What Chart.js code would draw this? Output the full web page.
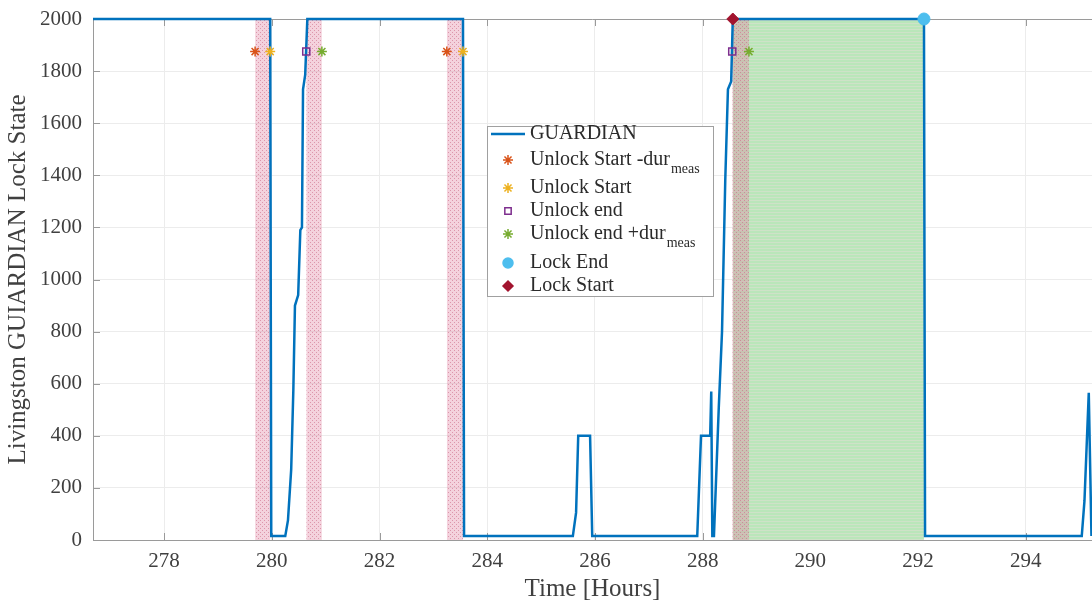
<!DOCTYPE html>
<html>
<head>
<meta charset="utf-8">
<script src="https://cdn.jsdelivr.net/npm/chart.js@4.4.1/dist/chart.umd.min.js"></script>
<style>
  html, body { margin: 0; padding: 0; background: #fff; }
  #wrap { width: 1092px; height: 604px; }
</style>
</head>
<body>
<div id="wrap"><canvas id="graficoLock" width="1092" height="604"></canvas></div>
<script>
// dados
const guardianTime = [276.68, 279.97, 279.99, 280.25, 280.30, 280.36, 280.40, 280.43, 280.49, 280.53, 280.56, 280.58, 280.62, 280.66,
    283.55, 283.57, 285.59, 285.65, 285.69, 285.91, 285.95, 287.90, 287.97, 288.14, 288.16, 288.18, 288.21, 288.30, 288.36,
    288.42, 288.47, 288.53, 288.56, 292.11, 292.13, 295.04, 295.09, 295.17, 295.22];
const guardianState = [2000, 2000, 15, 15, 75, 270, 575, 900, 940, 1190, 1200, 1730, 1785, 2000,
    2000, 15, 15, 105, 400, 400, 15, 15, 400, 400, 570, 15, 15, 510, 800,
    1380, 1730, 1760, 2000, 2000, 15, 15, 150, 565, 15];

const unlockStartDur = [279.69, 283.25];
const unlockStart = [279.97, 283.55];
const unlockEnd = [280.64, 288.55];
const unlockEndDur = [280.93, 288.86];
const lockStart = [288.56];
const lockEnd = [292.11];
const markerLevel = 1875;
const lockLevel = 2000;

const xTickValues = [278, 280, 282, 284, 286, 288, 290, 292, 294];
const yTickValues = [0, 200, 400, 600, 800, 1000, 1200, 1400, 1600, 1800, 2000];

const legendItems = [
    { label: 'GUARDIAN', sub: '', kind: 'line', color: '#0072BD' },
    { label: 'Unlock Start -dur', sub: 'meas', kind: 'star', color: '#D95319' },
    { label: 'Unlock Start', sub: '', kind: 'star', color: '#EDB120' },
    { label: 'Unlock end', sub: '', kind: 'rect', color: '#7E2F8E' },
    { label: 'Unlock end +dur', sub: 'meas', kind: 'star', color: '#77AC30' },
    { label: 'Lock End', sub: '', kind: 'circle', color: '#4DBEEE' },
    { label: 'Lock Start', sub: '', kind: 'rectRot', color: '#A2142F' }
];

const FONTE = '"Liberation Serif", "Times New Roman", serif';

// =================================================================================
// PADROES (hachura das faixas)
// =================================================================================

function padraoRosa() {
    const c = document.createElement('canvas');
    c.width = 4; c.height = 4;
    const g = c.getContext('2d');
    g.fillStyle = 'rgba(225,130,160,0.36)';
    g.fillRect(0, 0, 4, 4);
    g.fillStyle = 'rgba(200,100,130,0.55)';
    g.fillRect(0, 0, 1, 1);
    g.fillRect(2, 2, 1, 1);
    return g.createPattern(c, 'repeat');
}

function padraoVerde() {
    const c = document.createElement('canvas');
    c.width = 4; c.height = 3;
    const g = c.getContext('2d');
    g.fillStyle = 'rgb(186,230,186)';
    g.fillRect(0, 0, 4, 3);
    g.fillStyle = 'rgb(206,226,200)';
    g.fillRect(0, 2, 4, 1);
    return g.createPattern(c, 'repeat');
}

const rosa = padraoRosa();
const verde = padraoVerde();

function faixa(a, b, bg, ordem) {
    return {
        type: 'line',
        data: [{ x: a, y: lockLevel }, { x: b, y: lockLevel }],
        fill: 'origin',
        backgroundColor: bg,
        borderWidth: 0,
        pointRadius: 0,
        order: ordem
    };
}

function marcadores(xs, y, estilo, cor, raio, cheio) {
    return {
        type: 'scatter',
        data: xs.map(v => ({ x: v, y: y })),
        pointStyle: estilo,
        pointRadius: raio,
        borderColor: cor,
        backgroundColor: cheio ? cor : 'rgba(0,0,0,0)',
        pointBorderWidth: cheio ? 1 : 1.5,
        borderWidth: 1.5,
        clip: false,
        order: 0
    };
}

const datasets = [];
lockStart.forEach((s, i) => datasets.push(faixa(s, lockEnd[i], verde, 30)));
unlockStartDur.forEach((s, i) => datasets.push(faixa(s, unlockStart[i], rosa, 20)));
unlockEnd.forEach((s, i) => datasets.push(faixa(s, unlockEndDur[i], rosa, 20)));

datasets.push({
    type: 'line',
    data: guardianTime.map((t, i) => ({ x: t, y: guardianState[i] })),
    borderColor: '#0072BD',
    borderWidth: 2.5,
    pointRadius: 0,
    tension: 0,
    fill: false,
    clip: false,
    order: 5
});

datasets.push(marcadores(unlockStartDur, markerLevel, 'star', '#D95319', 5, false));
datasets.push(marcadores(unlockStart, markerLevel, 'star', '#EDB120', 5, false));
datasets.push(marcadores(unlockEnd, markerLevel, 'rect', '#7E2F8E', 5, false));
datasets.push(marcadores(unlockEndDur, markerLevel, 'star', '#77AC30', 5, false));
datasets.push(marcadores(lockEnd, lockLevel, 'circle', '#4DBEEE', 6, true));
datasets.push(marcadores(lockStart, lockLevel, 'rectRot', '#A2142F', 6, true));

// =================================================================================
// PLUGIN: borda superior, ticks internos e legenda estilo MATLAB
// =================================================================================

const estiloMatlab = {
    id: 'estiloMatlab',
    beforeDatasetsDraw(chart) {
        const ctx = chart.ctx;
        const a = chart.chartArea;
        ctx.save();
        ctx.strokeStyle = '#9a9a9a';
        ctx.lineWidth = 1;
        ctx.beginPath();
        ctx.moveTo(a.left, a.top + 0.5);
        ctx.lineTo(a.right, a.top + 0.5);
        ctx.stroke();
        ctx.beginPath();
        xTickValues.forEach(v => {
            const px = Math.round(chart.scales.x.getPixelForValue(v)) + 0.5;
            ctx.moveTo(px, a.bottom); ctx.lineTo(px, a.bottom - 7);
            ctx.moveTo(px, a.top); ctx.lineTo(px, a.top + 7);
        });
        yTickValues.forEach(v => {
            const py = Math.round(chart.scales.y.getPixelForValue(v)) + 0.5;
            ctx.moveTo(a.left, py); ctx.lineTo(a.left + 7, py);
        });
        ctx.stroke();
        ctx.restore();
    },
    afterDraw(chart) {
        const ctx = chart.ctx;
        const bx = 487, by = 126, bw = 226, bh = 170;
        const linhas = [134, 160, 188, 211, 234, 263, 286];
        ctx.save();
        ctx.fillStyle = '#ffffff';
        ctx.fillRect(bx, by, bw, bh);
        ctx.strokeStyle = '#a0a0a0';
        ctx.lineWidth = 1;
        ctx.strokeRect(bx + 0.5, by + 0.5, bw, bh);

        legendItems.forEach((it, i) => {
            const y = linhas[i];
            if (it.kind === 'line') {
                ctx.strokeStyle = it.color;
                ctx.lineWidth = 2.5;
                ctx.beginPath();
                ctx.moveTo(491, y); ctx.lineTo(525, y);
                ctx.stroke();
            } else {
                const cheio = it.kind === 'circle' || it.kind === 'rectRot';
                ctx.strokeStyle = it.color;
                ctx.fillStyle = cheio ? it.color : 'rgba(0,0,0,0)';
                ctx.lineWidth = 1.5;
                Chart.helpers.drawPoint(ctx, {
                    pointStyle: it.kind,
                    radius: it.kind === 'rect' ? 4.5 : 5,
                    borderWidth: 1.5,
                    rotation: 0
                }, 508, y);
            }
            ctx.fillStyle = '#2b2b2b';
            ctx.font = '20px ' + FONTE;
            ctx.textBaseline = 'middle';
            ctx.textAlign = 'left';
            ctx.fillText(it.label, 530, y);
            if (it.sub) {
                const w = ctx.measureText(it.label).width;
                ctx.font = '14px ' + FONTE;
                ctx.fillText(it.sub, 530 + w + 1, y + 9);
            }
        });
        ctx.restore();
    }
};

new Chart(document.getElementById('graficoLock'), {
    type: 'line',
    data: { datasets: datasets },
    options: {
        responsive: false,
        animation: false,
        events: [],
        layout: { autoPadding: false, padding: { top: 19, right: 0, left: 0, bottom: 0 } },
        plugins: {
            legend: { display: false },
            tooltip: { enabled: false }
        },
        scales: {
            x: {
                type: 'linear',
                min: 276.68,
                max: 295.23,
                afterBuildTicks: scale => { scale.ticks = xTickValues.map(v => ({ value: v })); },
                afterFit: scale => { scale.height = 64; scale.paddingRight = 0; scale.paddingLeft = 0; },
                grid: { color: '#ececec', drawTicks: false },
                border: { color: '#9a9a9a', width: 1 },
                ticks: {
                    color: '#404040',
                    padding: 9,
                    maxRotation: 0,
                    font: { family: FONTE, size: 21 },
                    callback: v => String(v)
                },
                title: {
                    display: true,
                    text: 'Time [Hours]',
                    color: '#404040',
                    font: { family: FONTE, size: 25 },
                    padding: { top: 0, bottom: 0 }
                }
            },
            y: {
                min: 0,
                max: 2000,
                afterBuildTicks: scale => { scale.ticks = yTickValues.map(v => ({ value: v })); },
                afterFit: scale => { scale.width = 93; scale.paddingTop = 0; scale.paddingBottom = 0; },
                grid: { color: '#ececec', drawTicks: false },
                border: { color: '#9a9a9a', width: 1 },
                ticks: {
                    color: '#404040',
                    padding: 11,
                    font: { family: FONTE, size: 21 },
                    callback: v => String(v)
                },
                title: {
                    display: true,
                    text: 'Livingston GUIARDIAN Lock State',
                    color: '#404040',
                    font: { family: FONTE, size: 25 },
                    padding: { top: 3, bottom: 0 }
                }
            }
        }
    },
    plugins: [estiloMatlab]
});
</script>
</body>
</html>
